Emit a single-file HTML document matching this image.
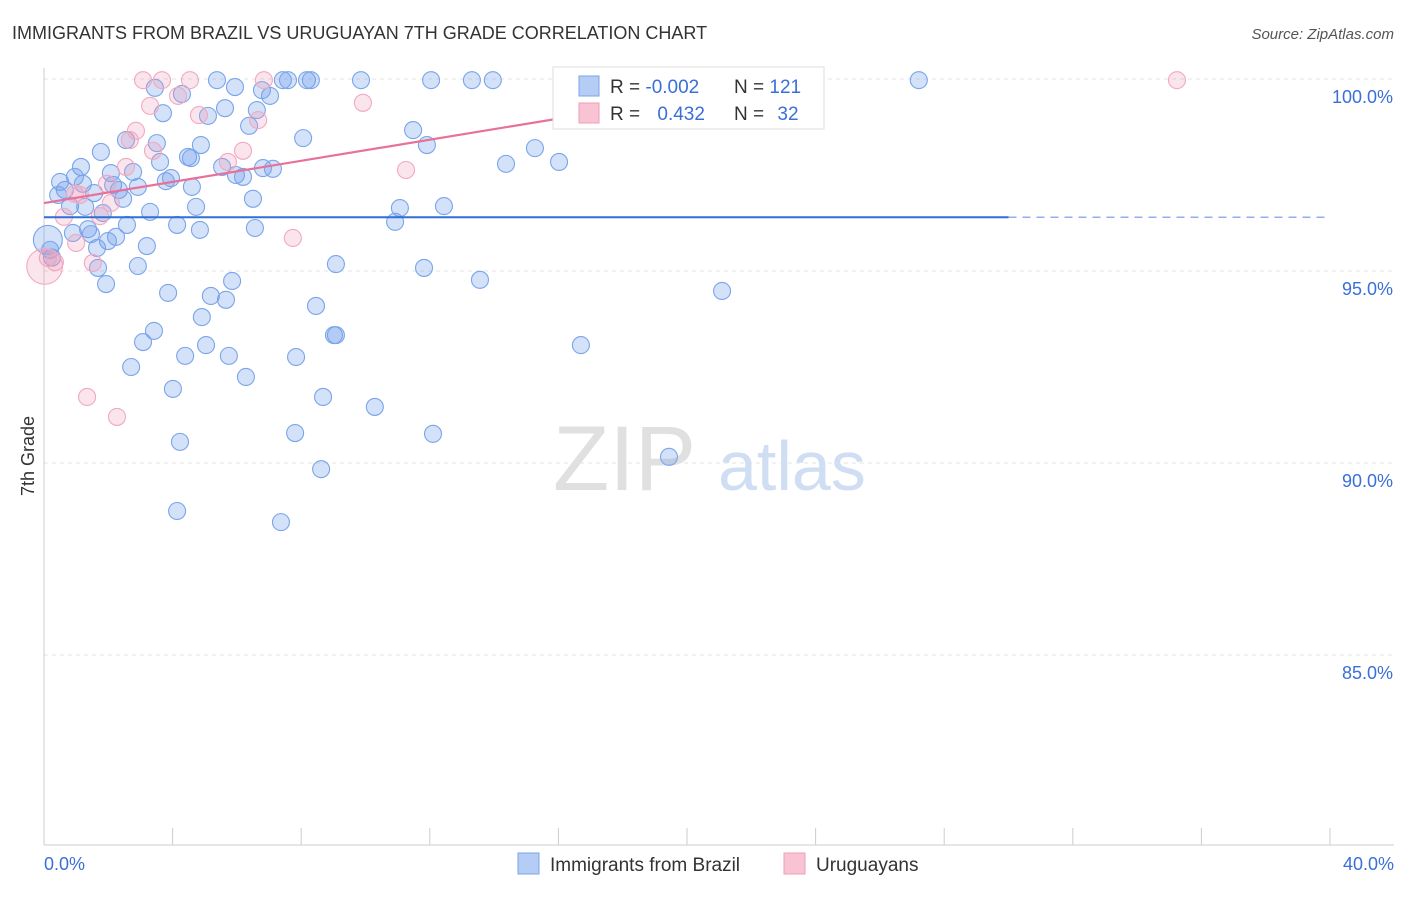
<!DOCTYPE html>
<html><head><meta charset="utf-8"><style>
body{margin:0;background:#fff;font-family:"Liberation Sans",sans-serif}
svg text{font-family:"Liberation Sans",sans-serif}
</style></head><body>
<svg id="c" width="1406" height="892">
<text x="12" y="39" font-size="18" fill="#333">IMMIGRANTS FROM BRAZIL VS URUGUAYAN 7TH GRADE CORRELATION CHART</text>
<text x="1394" y="39" font-size="15" fill="#555" text-anchor="end" font-style="italic">Source: ZipAtlas.com</text>
<text x="34" y="456" font-size="18" fill="#333" text-anchor="middle" transform="rotate(-90 34 456)">7th Grade</text>
<g id="grid"></g>
<g>
<text x="553" y="490" font-size="92" fill="#e0e0e0" font-family="Liberation Serif">ZIP</text>
<text x="718" y="490" font-size="70" fill="#d0def4">atlas</text>
</g>
<g id="pts"></g>
<g id="lines"></g>
<g>
<rect x="553" y="67" width="271" height="62" fill="#fff" stroke="#ddd"/>
<rect x="579" y="76" width="20" height="20" fill="#b5cdf5" stroke="#7aa5ea"/>
<rect x="579" y="103" width="20" height="20" fill="#f8c3d3" stroke="#ef9fb9"/>
<text x="610" y="93" font-size="19" fill="#333">R = <tspan fill="#3a6fd8">-0.002</tspan></text>
<text x="734" y="93" font-size="19" fill="#333">N = <tspan fill="#3a6fd8">121</tspan></text>
<text x="610" y="120" font-size="19" fill="#333">R = <tspan fill="#3a6fd8" dx="12">0.432</tspan></text>
<text x="734" y="120" font-size="19" fill="#333">N = <tspan fill="#3a6fd8" dx="8">32</tspan></text>
</g>
<g>
<rect x="518" y="853" width="21" height="21" fill="#b5cdf5" stroke="#7aa5ea"/>
<text x="550" y="871" font-size="19" fill="#333">Immigrants from Brazil</text>
<rect x="784" y="853" width="21" height="21" fill="#f8c3d3" stroke="#ef9fb9"/>
<text x="816" y="871" font-size="19" fill="#333">Uruguayans</text>
</g>
</svg>
<script>
const yTicks=[100,95,90,85];
const yTickLabels=["100.0%","95.0%","90.0%","85.0%"];
const xTicks=[0,4,8,12,16,20,24,28,32,36,40];
const blueX=[3.45,5.38,5.94,7.43,7.59,8.18,8.30,9.86,12.04,13.31,13.96,27.21,4.29,7.03,6.78,3.70,5.63,5.10,6.62,6.38,2.55,3.51,4.88,8.06,11.48,11.91,15.27,16.02,14.37,1.77,4.48,4.57,3.61,1.15,5.54,6.81,7.12,5.97,6.19,0.50,0.96,2.08,2.77,3.95,3.79,1.21,2.15,2.92,4.60,0.65,0.44,1.56,2.33,2.46,6.50,12.44,11.07,0.81,1.28,3.30,4.73,1.83,10.92,4.14,2.58,1.37,4.85,6.56,0.90,1.46,2.24,1.99,3.20,1.65,9.08,2.92,1.68,11.82,5.85,13.56,1.93,21.09,3.86,5.19,5.66,8.46,4.91,3.42,9.08,9.02,3.08,5.04,16.70,4.39,5.75,7.84,2.71,6.28,4.01,8.68,10.29,4.23,7.81,12.10,19.44,8.62,4.14,7.37,0.12,0.19,0.25];
const blueY=[99.77,99.97,99.79,99.97,99.97,99.97,99.97,99.97,99.97,99.97,99.97,99.97,99.61,99.56,99.71,99.11,99.24,99.04,99.19,98.78,98.41,98.33,98.28,98.46,98.67,98.28,98.20,97.84,97.79,98.10,97.97,97.94,97.84,97.71,97.71,97.68,97.66,97.50,97.45,97.32,97.45,97.55,97.58,97.42,97.34,97.27,97.24,97.19,97.19,97.11,96.98,97.03,97.11,96.88,96.88,96.69,96.64,96.69,96.67,96.54,96.67,96.51,96.28,96.20,96.20,96.09,96.07,96.12,95.99,95.96,95.89,95.78,95.65,95.60,95.18,95.13,95.08,95.08,94.74,94.77,94.66,94.48,94.43,94.35,94.25,94.09,93.80,93.44,93.33,93.33,93.15,93.07,93.07,92.79,92.79,92.76,92.50,92.24,91.93,91.72,91.46,90.55,90.78,90.76,90.16,89.84,88.75,88.46,95.81,95.55,95.35];
const blueSize=[];for(let i=0;i<blueX.length;i++)blueSize.push(1);blueSize[blueX.length-3]=1.7;
const pinkX=[3.08,3.67,4.54,6.84,23.57,35.24,4.17,3.30,9.92,4.82,6.66,2.86,2.67,3.39,6.19,5.72,2.55,11.26,1.96,0.96,1.12,2.08,1.74,0.62,7.74,1.00,1.52,0.12,0.34,1.34,2.27,0.02];
const pinkY=[99.97,99.97,99.97,99.97,99.97,99.97,99.56,99.30,99.38,99.06,98.93,98.65,98.41,98.13,98.13,97.84,97.71,97.63,97.27,97.01,96.98,96.77,96.43,96.41,95.86,95.73,95.21,95.34,95.23,91.72,91.20,95.12];
const pinkSize=[];for(let i=0;i<pinkX.length;i++)pinkSize.push(1);pinkSize[pinkX.length-1]=2.1;
const blueTrend=[96.4,96.4];const blueSolidEnd=30;
const pinkTrend=[96.77,100];const pinkEnd=23.5;

const X0=44,X1=1330,Y100=79,PXPCT=38.4;
const sx=v=>X0+(v/40)*(X1-X0);
const sy=v=>Y100+(100-v)*PXPCT;
const NS="http://www.w3.org/2000/svg";
function mk(t,a,p){const e=document.createElementNS(NS,t);for(const k in a)e.setAttribute(k,a[k]);p.appendChild(e);return e;}
const grid=document.getElementById('grid');
yTicks.forEach((v,i)=>{
 const l=mk('line',{x1:X0,x2:1394,y1:sy(v),y2:sy(v),stroke:'#e3e3e3','stroke-dasharray':'4 4'},grid);
 
 
 const t=mk('text',{x:1393,y:sy(v)+24,'font-size':18,fill:'#3a6fd8','text-anchor':'end'},grid);
 t.textContent=yTickLabels[i];
 
 
});
const ax=mk('line',{x1:X0,x2:X0,y1:68,y2:845,stroke:'#ccc'},grid);


const bx=mk('line',{x1:X0,x2:1394,y1:845,y2:845,stroke:'#ccc'},grid);


xTicks.forEach(v=>{
 const l=mk('line',{x1:sx(v),x2:sx(v),y1:828,y2:845,stroke:'#ccc'},grid);
 
 
});
[[0,"0.0%","start",44],[40,"40.0%","end",1394]].forEach(d=>{
 const t=mk('text',{x:d[3],y:870,'font-size':18,fill:'#3a6fd8','text-anchor':d[2]},grid);
 t.textContent=d[1];
 
 
});
const pts=document.getElementById('pts');
blueX.forEach((x,i)=>{
 const c=mk('circle',{cx:sx(x),cy:sy(blueY[i]),r:8.5*blueSize[i],fill:'rgba(110,155,235,0.3)',stroke:'#7aa5ea','stroke-width':1.1},pts);
 
 
});
pinkX.forEach((x,i)=>{
 const c=mk('circle',{cx:sx(x),cy:sy(pinkY[i]),r:8.5*pinkSize[i],fill:'rgba(240,150,180,0.25)',stroke:'#f2a8c0','stroke-width':1.1},pts);
 
 
});
const lines=document.getElementById('lines');
const bl=mk('line',{x1:sx(0),x2:sx(blueSolidEnd),y1:sy(blueTrend[0]),y2:sy(blueTrend[0]+(blueTrend[1]-blueTrend[0])*blueSolidEnd/40),stroke:'#2f6fd6','stroke-width':2},lines);


const bd=mk('line',{x1:sx(blueSolidEnd),x2:sx(40),y1:sy(blueTrend[0]+(blueTrend[1]-blueTrend[0])*blueSolidEnd/40),y2:sy(blueTrend[1]),stroke:'#8fb0e8','stroke-width':1.5,'stroke-dasharray':'8 6'},lines);


const pl=mk('line',{x1:sx(0),x2:sx(pinkEnd),y1:sy(pinkTrend[0]),y2:sy(pinkTrend[1]),stroke:'#e8719a','stroke-width':2.2},lines);


</script>
</body></html>
